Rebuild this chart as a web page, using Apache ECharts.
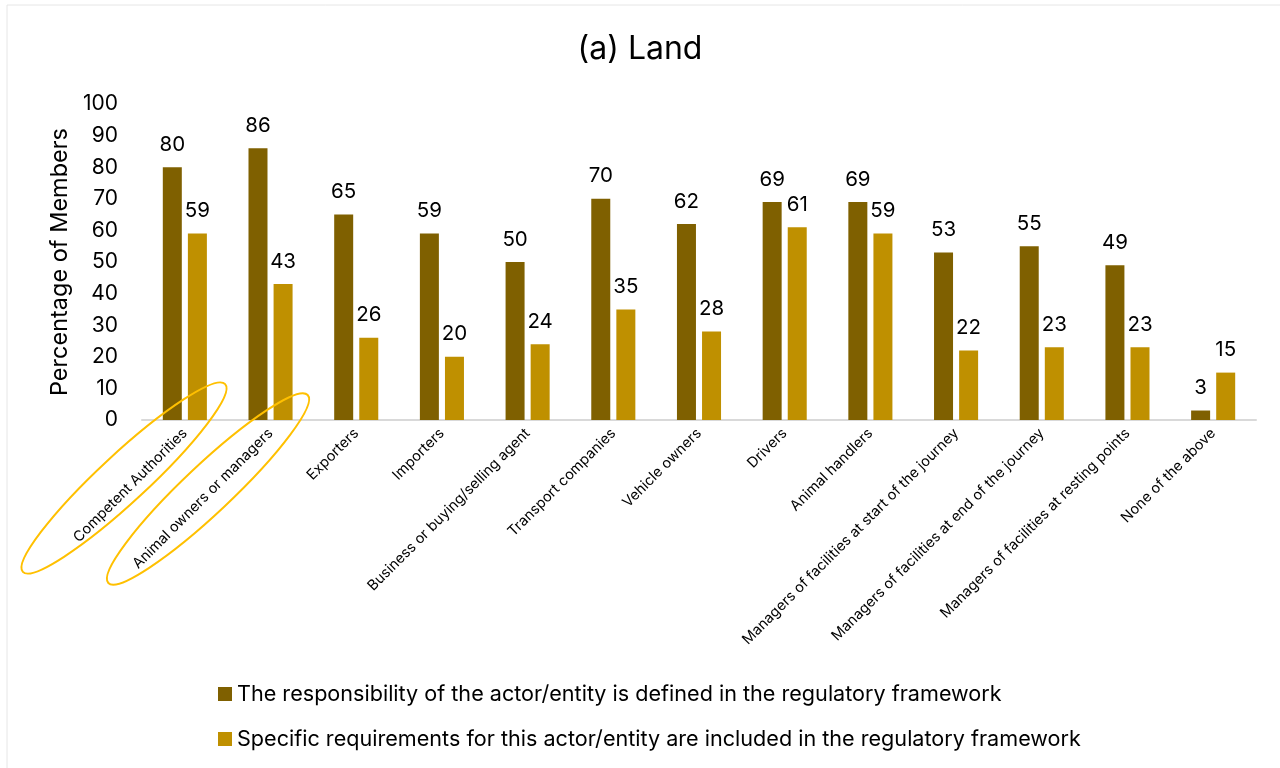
<!DOCTYPE html>
<html><head><meta charset="utf-8">
<script src="https://cdn.jsdelivr.net/npm/echarts@6/dist/echarts.min.js"></script>
<style>html,body{margin:0;padding:0;background:#fff}#c{width:1280px;height:768px}</style>
</head><body><div id="c"></div>
<script>
const categories = ['Competent Authorities','Animal owners or managers','Exporters','Importers','Business or buying/selling agent','Transport companies','Vehicle owners','Drivers','Animal handlers','Managers of facilities at start of the journey','Managers of facilities at end of the journey','Managers of facilities at resting points','None of the above'];
const responsibility = [80,86,65,59,50,70,62,69,69,53,55,49,3];
const requirements = [59,43,26,20,24,35,28,61,59,22,23,23,15];
const seriesNames = ['The responsibility of the actor/entity is defined in the regulatory framework','Specific requirements for this actor/entity are included in the regulatory framework'];
const yTicks = [0,10,20,30,40,50,60,70,80,90,100];

const font = 'Inter, "Noto Sans", sans-serif';
const chart = echarts.init(document.getElementById('c'));
chart.setOption({
  animation:false,
  textStyle:{fontFamily:font},
  title:{text:'(a) Land',left:'center',top:28,textStyle:{fontSize:32,fontWeight:'normal',color:'#000',fontFamily:font}},
  grid:{left:142,right:24,top:104,bottom:348},
  legend:{orient:'vertical',left:213,top:677,itemWidth:14,itemHeight:14,itemGap:21,icon:'rect',
    textStyle:{fontSize:21.6,color:'#000',fontFamily:font,lineHeight:24},data:seriesNames},
  xAxis:{type:'category',data:categories,
    axisLine:{lineStyle:{color:'#d9d9d9',width:2}},axisTick:{show:false},
    axisLabel:{rotate:45,interval:0,fontSize:14.5,color:'#000',margin:11,fontFamily:font}},
  yAxis:{type:'value',min:yTicks[0],max:yTicks[yTicks.length-1],interval:10,
    name:'Percentage of Members',nameLocation:'middle',nameGap:70,
    nameTextStyle:{fontSize:23.5,color:'#000',fontFamily:font},
    axisLine:{show:false},axisTick:{show:false},splitLine:{show:false},
    axisLabel:{fontSize:21,color:'#000',margin:24,fontFamily:font}},
  series:[
    {name:seriesNames[0],type:'bar',data:responsibility,barWidth:19,barGap:'32%',
     itemStyle:{color:'#7F6000'},
     label:{show:true,position:'top',distance:12,fontSize:20.5,color:'#000',fontFamily:font}},
    {name:seriesNames[1],type:'bar',data:requirements,barWidth:19,barGap:'32%',
     itemStyle:{color:'#BF9000'},
     label:{show:true,position:'top',distance:12,fontSize:20.5,color:'#000',fontFamily:font}}
  ],
  graphic:[
    {type:'rect',shape:{x:7,y:5,width:1290,height:780},style:{fill:'none',stroke:'#e6e6e6',lineWidth:1},silent:true},
    {type:'ellipse',x:124,y:478,rotation:0.748,shape:{cx:0,cy:0,rx:138,ry:24},style:{fill:'none',stroke:'#FFC000',lineWidth:2},z:100},
    {type:'ellipse',x:208,y:489,rotation:0.756,shape:{cx:0,cy:0,rx:137,ry:24},style:{fill:'none',stroke:'#FFC000',lineWidth:2},z:100}
  ]
});
</script></body></html>
